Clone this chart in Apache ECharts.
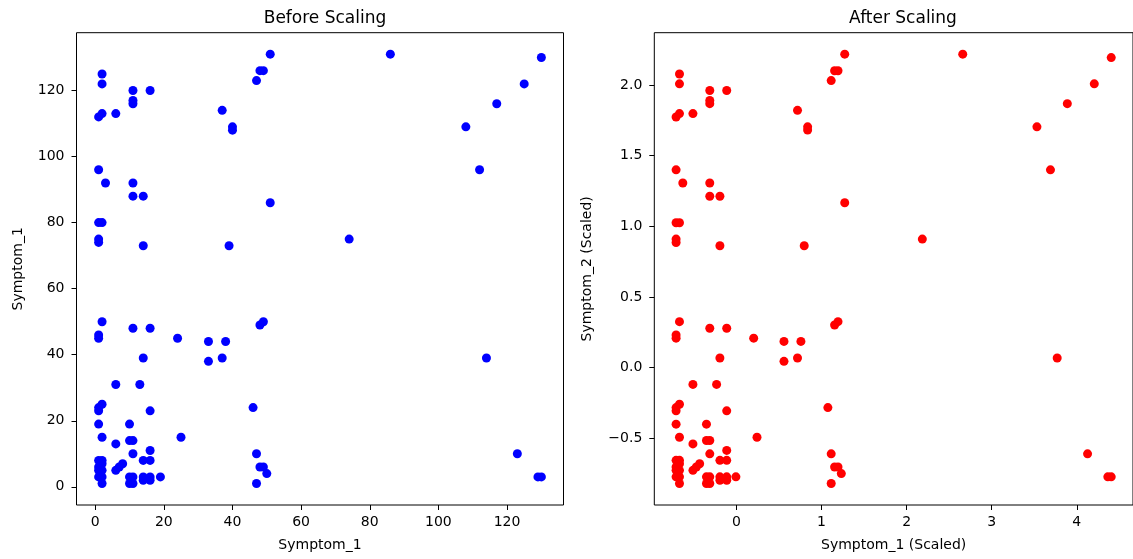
<!DOCTYPE html>
<html>
<head>
<meta charset="utf-8">
<script src="https://cdn.jsdelivr.net/npm/echarts@6/dist/echarts.min.js"></script>
<style>
    html, body { margin: 0; padding: 0; background: #fff; }
    #chart { width: 1133px; height: 559px; }
</style>
</head>
<body>
<div id="chart"></div>
<script>
// raw values
var rawSymptom1 = [51, 2, 2, 11, 16, 11, 11, 1, 2, 6, 48, 49, 47, 37, 40, 40, 1, 3, 11, 11, 14, 51, 1, 2, 1, 1, 14, 39,
    86, 130, 125, 117, 108, 112, 74, 114, 123, 129, 130,
    2, 1, 1, 11, 16, 24, 33, 38, 33, 37, 48, 49, 14, 6, 13, 1, 1, 2, 16, 46, 1, 10, 2, 6, 10, 11, 25, 11, 16, 14, 16, 8, 6,
    1, 2, 1, 2, 1, 2, 2, 10, 11, 14, 16, 19, 10, 11, 14, 16, 47, 48, 49, 50, 47, 1, 2, 7];
var rawSymptom2 = [131, 125, 122, 120, 120, 117, 116, 112, 113, 113, 126, 126, 123, 114, 109, 108, 96, 92, 92, 88, 88, 86, 80, 80, 75, 74, 73, 73,
    131, 130, 122, 116, 109, 96, 75, 39, 10, 3, 3,
    50, 46, 45, 48, 48, 45, 44, 44, 38, 39, 49, 50, 39, 31, 31, 24, 23, 25, 23, 24, 19, 19, 15, 13, 14, 14, 15, 10, 11, 8, 8, 7, 5,
    8, 8, 5, 5, 3, 3, 1, 3, 3, 3, 3, 3, 1, 1, 2, 2, 10, 6, 6, 4, 1, 6, 7, 6];

// scaled values
var scaledSymptom1 = [1.273, -0.669, -0.669, -0.313, -0.114, -0.313, -0.313, -0.709, -0.669, -0.511, 1.154, 1.194, 1.114, 0.718, 0.837, 0.837,
    -0.709, -0.630, -0.313, -0.313, -0.194, 1.273, -0.709, -0.669, -0.709, -0.709, -0.194, 0.797,
    2.660, 4.405, 4.206, 3.889, 3.532, 3.691, 2.185, 3.770, 4.127, 4.365, 4.405,
    -0.669, -0.709, -0.709, -0.313, -0.114, 0.203, 0.559, 0.758, 0.559, 0.718, 1.154, 1.194, -0.194, -0.511, -0.233,
    -0.709, -0.709, -0.669, -0.114, 1.075, -0.709, -0.352, -0.669, -0.511, -0.352, -0.313, 0.242, -0.313, -0.114,
    -0.194, -0.114, -0.432, -0.511, -0.709, -0.669, -0.709, -0.669, -0.709, -0.669, -0.669, -0.352, -0.313, -0.194,
    -0.114, -0.006, -0.352, -0.313, -0.194, -0.114, 1.114, 1.154, 1.194, 1.233, 1.114, -0.709, -0.669, -0.471];
var scaledSymptom2 = [2.218, 2.078, 2.008, 1.961, 1.961, 1.891, 1.868, 1.774, 1.798, 1.798, 2.101, 2.101, 2.031, 1.821, 1.704, 1.681,
    1.400, 1.307, 1.307, 1.213, 1.213, 1.167, 1.026, 1.026, 0.910, 0.886, 0.863, 0.863,
    2.218, 2.194, 2.008, 1.868, 1.704, 1.400, 0.910, 0.069, -0.609, -0.772, -0.772,
    0.326, 0.232, 0.209, 0.279, 0.279, 0.209, 0.186, 0.186, 0.045, 0.069, 0.302, 0.326, 0.069, -0.118, -0.118,
    -0.282, -0.305, -0.258, -0.305, -0.282, -0.399, -0.399, -0.492, -0.539, -0.515, -0.515, -0.492, -0.609, -0.585,
    -0.655, -0.655, -0.679, -0.726, -0.655, -0.655, -0.726, -0.726, -0.772, -0.772, -0.819, -0.772, -0.772, -0.772,
    -0.772, -0.772, -0.819, -0.819, -0.796, -0.796, -0.609, -0.702, -0.702, -0.749, -0.819, -0.702, -0.679, -0.702];

var rawTicks = [0, 20, 40, 60, 80, 100, 120];
var scaledXTicks = [0, 1, 2, 3, 4];
var scaledYTicks = [-0.5, 0, 0.5, 1, 1.5, 2];

var font = 'DejaVu Sans';

function pairs(xs, ys) {
    return xs.map((x, i) => [x, ys[i]]);
}

function fmtScaled(v) {
    return (v < 0 ? '\u2212' : '') + Math.abs(v).toFixed(1);
}

// matplotlib-ish value axis; ticks sit on the grid edge, not on zero
function axis(opts, ticks, margin, formatter) {
    return Object.assign({
        type: 'value',
        scale: true,
        axisLine: { show: false, onZero: false },
        axisTick: { show: true, length: 5, customValues: ticks, lineStyle: { color: '#000', width: 1 } },
        axisLabel: { color: '#000', fontFamily: font, fontSize: 14, margin: margin, customValues: ticks, formatter: formatter },
        splitLine: { show: false },
        nameLocation: 'middle',
        nameTextStyle: { color: '#000', fontFamily: font, fontSize: 14 }
    }, opts);
}

var chart = echarts.init(document.getElementById('chart'), null, { renderer: 'canvas' });

chart.setOption({
    animation: false,
    backgroundColor: '#fff',
    title: [
        { text: 'Before Scaling', left: 320, top: 5, textAlign: 'center',
          textStyle: { fontFamily: font, fontSize: 17, fontWeight: 'normal', color: '#000' } },
        { text: 'After Scaling', left: 898, top: 5, textAlign: 'center',
          textStyle: { fontFamily: font, fontSize: 17, fontWeight: 'normal', color: '#000' } }
    ],
    grid: [
        { left: 76.5, top: 32.7, width: 487, height: 472.3, show: true, borderColor: '#000', borderWidth: 1 },
        { left: 654.3, top: 32.7, width: 487, height: 472.3, show: true, borderColor: '#000', borderWidth: 1 }
    ],
    xAxis: [
        axis({ gridIndex: 0, min: -5.45, max: 136.45, name: 'Symptom_1', nameGap: 33 }, rawTicks, 10),
        axis({ gridIndex: 1, min: -0.965, max: 4.661, name: 'Symptom_1 (Scaled)', nameGap: 33 }, scaledXTicks, 10)
    ],
    yAxis: [
        axis({ gridIndex: 0, min: -5.5, max: 137.5, name: 'Symptom_1', nameGap: 51 }, rawTicks, 12),
        axis({ gridIndex: 1, min: -0.971, max: 2.370, name: 'Symptom_2 (Scaled)', nameGap: 60 }, scaledYTicks, 12, fmtScaled)
    ],
    series: [
        {
            name: 'Before', type: 'scatter', xAxisIndex: 0, yAxisIndex: 0,
            symbolSize: 9, itemStyle: { color: '#0000ff', opacity: 1 },
            data: pairs(rawSymptom1, rawSymptom2)
        },
        {
            name: 'After', type: 'scatter', xAxisIndex: 1, yAxisIndex: 1,
            symbolSize: 9, itemStyle: { color: '#ff0000', opacity: 1 },
            data: pairs(scaledSymptom1, scaledSymptom2)
        }
    ]
});
</script>
</body>
</html>
